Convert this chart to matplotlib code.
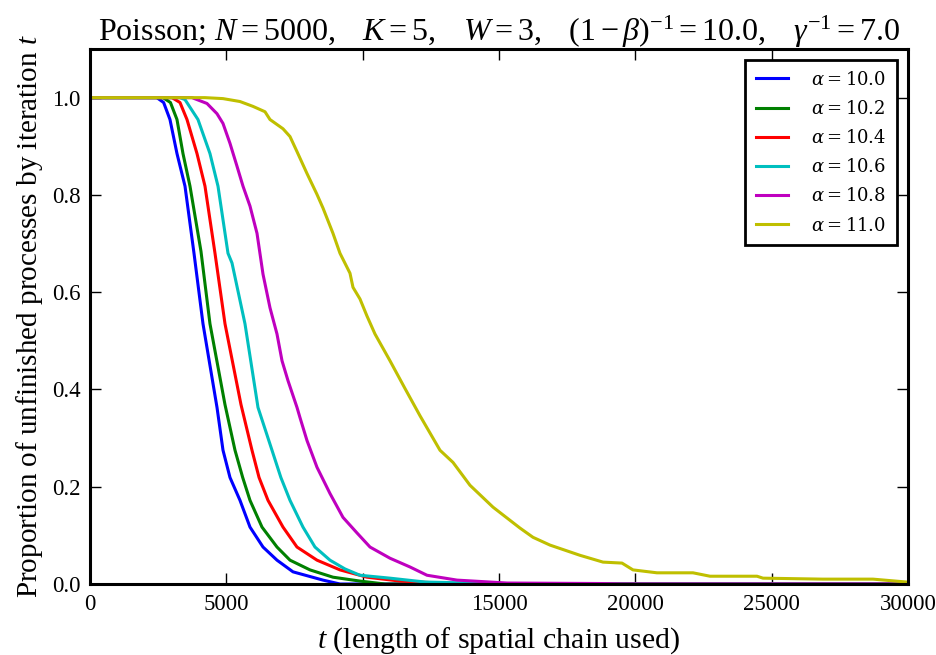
import numpy as np
import matplotlib
matplotlib.use("Agg")
import matplotlib.pyplot as plt
from matplotlib.font_manager import FontProperties

# --- data (t, proportion unfinished) ---
alphas = [10.0, 10.2, 10.4, 10.6, 10.8, 11.0]
colors = ['b', 'g', 'r', 'c', 'm', 'y']

t_a100 = [0, 2450, 2700, 2933, 3190, 3484, 3814, 4144, 4658, 4878, 5134, 5501, 5868, 6345,
          6858, 7445, 8545, 9168, 30000]
p_a100 = [1.0, 1.0, 0.990, 0.955, 0.885, 0.818, 0.680, 0.535, 0.363, 0.275, 0.219, 0.172, 0.117, 0.076,
          0.049, 0.025, 0.008, 0.0, 0.0]

t_a102 = [0, 2677, 2950, 3190, 3410, 3667, 4070, 4400, 4950, 5318, 5600, 5868, 6308, 6858,
          7335, 8068, 8911, 9901, 10818, 30000]
p_a102 = [1.0, 1.0, 0.990, 0.955, 0.885, 0.818, 0.684, 0.535, 0.369, 0.275, 0.219, 0.172, 0.117, 0.076,
          0.049, 0.029, 0.014, 0.006, 0.0, 0.0]

t_a104 = [0, 3007, 3300, 3557, 3924, 4217, 4584, 4951, 5537, 5941, 6200, 6528, 7078, 7591,
          8325, 9168, 10158, 11368, 12836, 14000, 30000]
p_a104 = [1.0, 1.0, 0.990, 0.955, 0.885, 0.818, 0.680, 0.535, 0.369, 0.275, 0.219, 0.172, 0.117, 0.076,
          0.049, 0.029, 0.014, 0.006, 0.002, 0.0, 0.0]

t_a106 = [0, 3300, 3484, 3960, 4400, 4694, 5061, 5208, 5684, 6161, 6675, 7000, 7335, 7811,
          8251, 8801, 9351, 9901, 11002, 12298, 13949, 15000, 30000]
p_a106 = [1.0, 1.0, 0.996, 0.955, 0.885, 0.818, 0.680, 0.660, 0.535, 0.363, 0.275, 0.219, 0.172, 0.117,
          0.076, 0.049, 0.031, 0.018, 0.012, 0.004, 0.002, 0.0, 0.0]

t_a108 = [0, 3740, 4290, 4657, 4877, 5134, 5391, 5611, 5868, 6125, 6345, 6601, 6858,
          7042, 7262, 7592, 7702, 7958, 8325, 8802, 9278, 9792, 10269, 11002, 11736,
          12359, 13460, 15293, 18704, 19500, 30000]
p_a108 = [1.0, 1.0, 0.988, 0.967, 0.947, 0.906, 0.859, 0.818, 0.777, 0.721, 0.637, 0.568, 0.514,
          0.459, 0.418, 0.363, 0.342, 0.295, 0.240, 0.186, 0.137, 0.105, 0.076, 0.053, 0.035,
          0.018, 0.008, 0.002, 0.001, 0.0, 0.0]

t_a110 = [0, 4217, 4877, 5501, 5978, 6418, 6601, 7078, 7335, 7592, 7958, 8325, 8545,
          8911, 9168, 9535, 9645, 9902, 10158, 10452, 11002, 11552, 12102, 12836, 13313,
          13936, 14780, 15770, 16247, 16870, 17970, 18814, 19511, 19914, 20794, 22115,
          22738, 24462, 24682, 26883, 28716, 29963]
p_a110 = [1.0, 1.0, 0.998, 0.992, 0.982, 0.971, 0.955, 0.936, 0.920, 0.889, 0.844, 0.801, 0.773,
          0.721, 0.680, 0.639, 0.610, 0.586, 0.551, 0.514, 0.459, 0.402, 0.346, 0.275, 0.250,
          0.203, 0.158, 0.115, 0.096, 0.080, 0.059, 0.045, 0.043, 0.029, 0.023, 0.023,
          0.016, 0.016, 0.012, 0.010, 0.010, 0.004]

series_t = [t_a100, t_a102, t_a104, t_a106, t_a108, t_a110]
series_p = [p_a100, p_a102, p_a104, p_a106, p_a108, p_a110]

plt.rcParams['font.family'] = ['Liberation Serif', 'DejaVu Serif']
plt.rcParams['mathtext.fontset'] = 'custom'
plt.rcParams['mathtext.rm'] = 'Liberation Serif'
plt.rcParams['mathtext.it'] = 'Liberation Serif:italic'
plt.rcParams['mathtext.bf'] = 'Liberation Serif:bold'

fig = plt.figure(figsize=(9.36, 6.55), dpi=100)
ax = fig.add_axes([90 / 936, 1 - 584 / 655, 818 / 936, 535 / 655])

for a, c, t, p in zip(alphas, colors, series_t, series_p):
    ax.plot(t, p, color=c, lw=2.2, label=r'$\alpha = %.1f$' % a)

ax.set_xlim(0, 30000)
ax.set_ylim(0, 1.1)
ax.set_xticks(np.arange(0, 30001, 5000))
ax.set_yticks([0.0, 0.2, 0.4, 0.6, 0.8, 1.0])
ax.set_yticklabels(['0.0', '0.2', '0.4', '0.6', '0.8', '1.0'])
ax.tick_params(direction='in', length=8, width=1, top=True, right=True,
               labelsize=16.5, pad=7)
for s in ax.spines.values():
    s.set_linewidth(2.2)

ax.set_title(r'Poisson; $N = 5000,\quad K = 5,\quad W = 3,\quad (1-\beta)^{-1} = 10.0,\quad \gamma^{-1} = 7.0$',
             fontsize=23, pad=6)
ax.set_xlabel(r'$t$ (length of spatial chain used)', fontsize=21.5, labelpad=8)
ax.set_ylabel(r'Proportion of unfinished processes by iteration $t$', fontsize=21, labelpad=5)

leg_font = FontProperties(family='DejaVu Serif', size=13, math_fontfamily='dejavuserif')
leg = ax.legend(loc='upper right', prop=leg_font, fancybox=False, framealpha=1,
                edgecolor='black', handlelength=1.75, labelspacing=0.62, borderpad=0.6,
                handletextpad=1.3, borderaxespad=0.6)
leg.get_frame().set_linewidth(2)

fig.savefig('out.png', dpi=100)
